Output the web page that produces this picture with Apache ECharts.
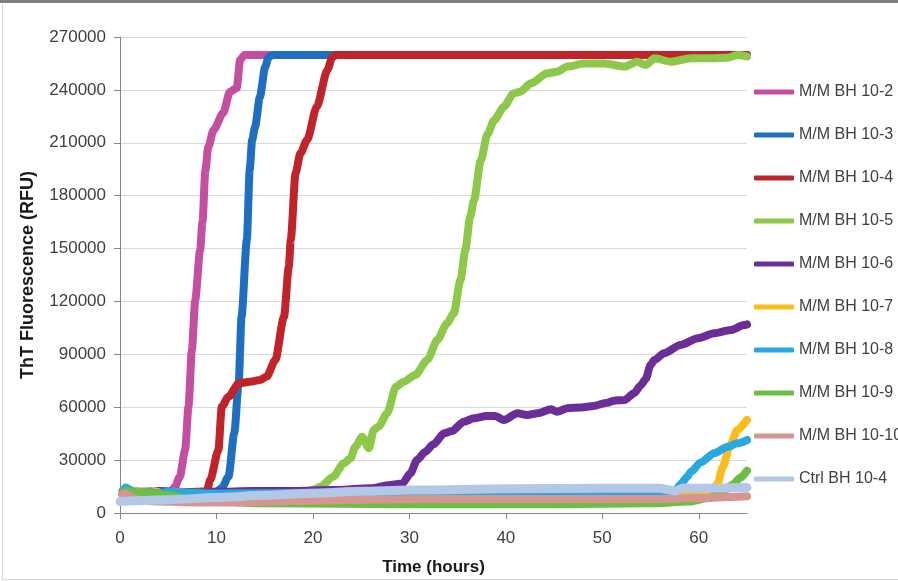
<!DOCTYPE html>
<html>
<head>
<meta charset="utf-8">
<script src="https://cdn.jsdelivr.net/npm/echarts@6/dist/echarts.min.js"></script>
<style>
  html, body { margin: 0; padding: 0; background: #fff; }
  #chart { width: 898px; height: 581px; }
</style>
</head>
<body>
<div id="chart"></div>
<script>
// [time (hours), ThT fluorescence (RFU)]
const bh102 = [[0.3,12500],[0.7,13500],[1.5,12000],[2.5,11500],[3.5,12000],[4.5,11500],[5.3,12000],[5.7,15000],[6.2,20600],[6.75,35700],[7.1,60300],[7.45,92500],[7.8,120800],[8.3,149000],[8.55,165000],[8.85,194500],[9.15,207600],[9.7,217200],[10.7,227000],[11.4,239000],[12.1,241000],[12.45,257000],[12.9,259800],[14,259800],[65,259800]]
const bh103 = [[0.3,12500],[0.7,13500],[1.5,12000],[3,11500],[5,12000],[7,11500],[9,12000],[10,12000],[10.55,14200],[11.25,20600],[11.85,45400],[12.3,73500],[12.6,111300],[13.15,155000],[13.45,195000],[13.7,211600],[14.0,219000],[14.5,236000],[15.05,253000],[15.4,258500],[15.8,259800],[65,259800]]
const bh104 = [[0.3,12500],[0.7,13000],[2,11500],[4,12000],[6,11500],[8,12000],[9.0,12500],[9.35,18700],[10.2,35700],[10.55,60300],[11.25,66000],[12.3,73500],[13.5,74500],[14.5,75400],[15.2,77300],[16.1,86800],[17.0,111300],[17.5,139700],[17.7,154800],[18.2,192800],[18.7,204000],[19.4,211600],[20.4,230500],[21.5,251300],[22.0,258500],[22.4,259800],[65,259800]]
const bh105 = [[0.3,13000],[0.7,12500],[2,11500],[4,12000],[6,11000],[8,11500],[10,11500],[12,12000],[14,12500],[16,12000],[18,12500],[19.5,12500],[20.2,13500],[20.8,15000],[22.1,20600],[23.2,28200],[23.9,31000],[24.4,37600],[25.1,43300],[25.8,36700],[26.3,47100],[26.8,49000],[27.7,56600],[28.6,71600],[29.4,74500],[30.6,78300],[31.85,86800],[32.9,98100],[33.9,107600],[34.6,113300],[35.3,132200],[35.8,149200],[36.3,168000],[36.7,177500],[37.4,200000],[38.1,215000],[38.8,222900],[39.8,230500],[40.8,238000],[41.5,239000],[42.6,243700],[44.3,249400],[45.3,250300],[46.4,253200],[48.1,255000],[50.2,255000],[52.3,253200],[53.6,256000],[54.5,254100],[55.4,257900],[57.1,256000],[59.2,257900],[61.3,258000],[63,258200],[64,259800],[65,259000]]
const bh106 = [[0.3,12500],[0.7,13000],[2,12000],[4,12500],[6,12000],[8,11500],[10,12000],[14,12500],[18,12500],[22,13000],[26,14000],[28,15900],[29.3,16800],[30.1,22500],[30.8,30100],[31.6,34500],[32.5,39000],[33.6,45200],[34.4,46500],[35.65,51800],[36.7,53700],[38.0,55000],[38.9,55000],[39.8,52800],[41.2,56600],[42.2,55600],[43.3,56600],[44.7,58800],[45.3,57500],[46.4,59400],[47.8,59900],[49.1,60700],[50.5,62600],[51.2,63700],[52.3,64100],[53.3,67900],[54.0,72500],[54.5,76000],[55.0,84000],[55.4,86800],[56.4,90600],[58.1,95300],[59.9,99100],[61.6,101900],[63.3,103800],[64.7,106600],[65,107000]]
const bh107 = [[0.3,12000],[0.8,11000],[1.5,12500],[2.5,11500],[3.5,12500],[4.5,11000],[5.5,12000],[7,11500],[9,10500],[12,10000],[20,9500],[30,9500],[40,9500],[50,9500],[57,9500],[60,10000],[61.2,11500],[61.95,16800],[62.5,26300],[63.2,37600],[64.0,47100],[65,52800]]
const bh108 = [[0.3,12500],[0.6,14500],[1.2,12500],[2,11000],[3,12000],[4,11000],[5,12000],[7,11500],[10,11000],[20,11500],[30,12000],[40,12000],[50,12000],[54,12000],[55.7,11200],[56.6,11000],[57.5,12500],[58.2,16800],[58.8,20600],[59.2,23400],[60.2,28700],[61.6,33900],[63.0,37600],[64.0,39500],[65,41400]]
const bh109 = [[0.3,12000],[0.7,12500],[1.5,11500],[2.5,12000],[3.5,11000],[5,10000],[7,8000],[10,6500],[15,5500],[30,5000],[45,5000],[55,5500],[59,6500],[61,8500],[62.5,12000],[63.5,16000],[64.3,20000],[65,24000]]
const bh1010 = [[0.2,10500],[0.6,11000],[1.2,9000],[2,7500],[4,6500],[8,6000],[12,6000],[16,6500],[20,7000],[25,7500],[30,7800],[40,8000],[50,8000],[56,8000],[60,8500],[65,9500]]
const ctrl104 = [[0,6500],[5,7500],[10,8800],[15,10000],[20,11200],[25,12300],[30,13000],[40,13800],[50,14000],[56,14000],[57,13000],[57.6,12500],[58.3,14000],[65,14500]]

const seriesNames = ['M/M BH 10-2', 'M/M BH 10-3', 'M/M BH 10-4', 'M/M BH 10-5', 'M/M BH 10-6', 'M/M BH 10-7', 'M/M BH 10-8', 'M/M BH 10-9', 'M/M BH 10-10', 'Ctrl BH 10-4']
const seriesData = [bh102, bh103, bh104, bh105, bh106, bh107, bh108, bh109, bh1010, ctrl104]
const xTicks = [0, 10, 20, 30, 40, 50, 60]

const seriesColors = ['#c44fa0', '#1f6fc0', '#c0232a', '#8dc84a', '#6b2e98', '#fbbd1a', '#29a9e1', '#6dbe45', '#d79591', '#b3c8e6']

const chart = echarts.init(document.getElementById('chart'))

const font = '"Liberation Sans", Arial, sans-serif'

chart.setOption({
  backgroundColor: '#ffffff',
  animation: false,
  graphic: [
    { type: 'rect', shape: { x: 0, y: 0, width: 898, height: 3 }, style: { fill: '#7f7f7f' } },
    { type: 'rect', shape: { x: 2, y: 3, width: 1, height: 576 }, style: { fill: '#d9d9d9' } },
    { type: 'rect', shape: { x: 2, y: 579, width: 896, height: 1 }, style: { fill: '#d9d9d9' } }
  ],
  legend: {
    orient: 'vertical',
    left: 749,
    top: 79,
    itemWidth: 40,
    itemHeight: 5,
    itemGap: 27,
    icon: 'roundRect',
    textStyle: {
      fontFamily: font,
      fontSize: 16,
      color: '#404040'
    },
    data: seriesNames
  },
  grid: {
    left: 120,
    right: 151,
    top: 37,
    bottom: 68
  },
  xAxis: {
    type: 'value',
    min: 0,
    max: 65,
    interval: 10,
    name: 'Time (hours)',
    nameLocation: 'middle',
    nameGap: 46,
    nameTextStyle: {
      fontFamily: font,
      fontSize: 17,
      fontWeight: 'bold',
      color: '#1a1a1a'
    },
    axisLine: { lineStyle: { color: '#868686', width: 1 } },
    axisTick: { show: true, length: 6, customValues: xTicks, lineStyle: { color: '#868686' } },
    axisLabel: {
      customValues: xTicks,
      margin: 17,
      fontFamily: font,
      fontSize: 17,
      color: '#404040'
    },
    splitLine: { show: false }
  },
  yAxis: {
    type: 'value',
    min: 0,
    max: 270000,
    interval: 30000,
    name: 'ThT Fluorescence (RFU)',
    nameLocation: 'middle',
    nameGap: 83,
    nameTextStyle: {
      fontFamily: font,
      fontSize: 18,
      fontWeight: 'bold',
      color: '#1a1a1a'
    },
    axisLine: { show: true, lineStyle: { color: '#868686', width: 1 } },
    axisTick: { show: true, length: 6, lineStyle: { color: '#868686' } },
    axisLabel: {
      margin: 14,
      fontFamily: font,
      fontSize: 17,
      color: '#404040',
      formatter: value => String(value)
    },
    splitLine: { lineStyle: { color: '#d9d9d9', width: 1 } }
  },
  series: seriesNames.map((name, i) => ({
    name: name,
    type: 'line',
    data: seriesData[i],
    color: seriesColors[i],
    showSymbol: false,
    smooth: 0.25,
    smoothMonotone: 'x',
    lineStyle: {
      width: i === 9 ? 9 : 8,
      color: seriesColors[i],
      cap: 'round',
      join: 'round'
    }
  }))
})
</script>
</body>
</html>
